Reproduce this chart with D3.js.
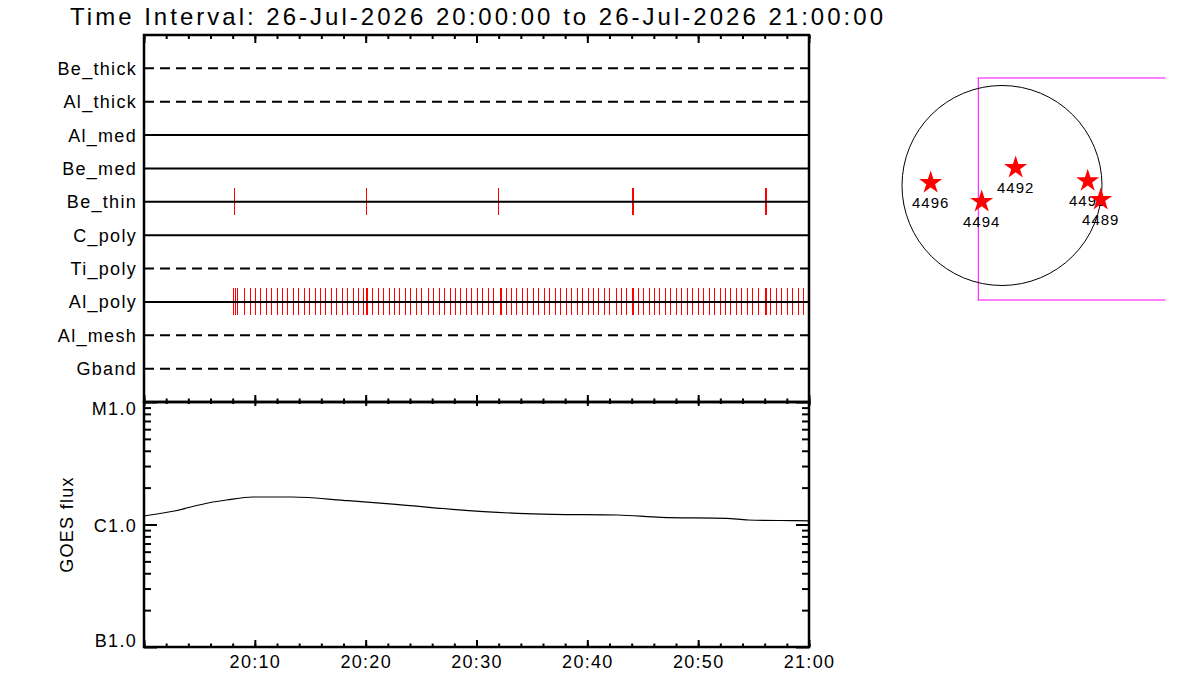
<!DOCTYPE html>
<html>
<head>
<meta charset="utf-8">
<script src="https://cdn.jsdelivr.net/npm/d3@7"></script>
<style>
  body { margin: 0; background: #fff; }
  svg { display: block; font-family: "Liberation Sans", Arial, sans-serif; }
  .lbl { font-size: 18px; letter-spacing: 1.3px; fill: #000; }
</style>
</head>
<body>
<svg id="chart" width="1200" height="700"></svg>
<script>
/* globals d3 */

// Filter rows of the observing timeline (top to bottom)
const filters = ['Be_thick', 'Al_thick', 'Al_med', 'Be_med', 'Be_thin',
  'C_poly', 'Ti_poly', 'Al_poly', 'Al_mesh', 'Gband'];
const dashedFilters = ['Be_thick', 'Al_thick', 'Ti_poly', 'Al_mesh', 'Gband'];

const timeRange = ['20:00:00', '21:00:00'];
const titleText = 'Time Interval: 26-Jul-2026 20:00:00 to 26-Jul-2026 21:00:00';
const timeLabels = ['20:10:00', '20:20:00', '20:30:00', '20:40:00', '20:50:00', '21:00:00'];

// Image times per filter
const beThinTimes = ['20:08:07', '20:20:02', '20:31:57', '20:44:02', '20:44:07',
  '20:56:02', '20:56:07'];
const alPolyTimes = [
  '20:08:03', '20:08:14', '20:08:25', '20:09:03', '20:09:32', '20:10:01', '20:10:30',
  '20:10:59', '20:11:29', '20:11:58', '20:12:27', '20:12:56', '20:13:27', '20:13:55',
  '20:14:25', '20:14:55', '20:15:24', '20:15:53', '20:16:22', '20:16:52', '20:17:21',
  '20:17:50', '20:18:19', '20:18:50', '20:19:19', '20:19:47', '20:20:03', '20:20:09',
  '20:20:36', '20:21:05', '20:21:34', '20:22:05', '20:22:33', '20:23:02', '20:23:33',
  '20:24:02', '20:24:31', '20:25:02', '20:25:36', '20:26:06', '20:26:35', '20:27:04',
  '20:27:35', '20:28:04', '20:28:32', '20:29:03', '20:29:32', '20:30:03', '20:30:32',
  '20:31:01', '20:31:31', '20:32:06', '20:32:12', '20:32:38', '20:33:07', '20:33:36',
  '20:34:06', '20:34:35', '20:35:06', '20:35:35', '20:36:04', '20:36:34', '20:37:04',
  '20:37:32', '20:38:03', '20:38:32', '20:39:03', '20:39:31', '20:40:02', '20:40:31',
  '20:41:00', '20:41:30', '20:41:59', '20:42:33', '20:43:02', '20:43:31', '20:44:03',
  '20:44:09', '20:44:33', '20:45:02', '20:45:32', '20:46:01', '20:46:30', '20:47:01',
  '20:47:29', '20:48:00', '20:48:29', '20:48:58', '20:49:28', '20:49:58', '20:50:28',
  '20:50:57', '20:51:26', '20:51:57', '20:52:25', '20:52:54', '20:53:25', '20:53:54',
  '20:54:25', '20:54:53', '20:55:23', '20:56:01', '20:56:07', '20:56:31', '20:57:00',
  '20:57:30', '20:57:59', '20:58:30', '20:58:59', '20:59:28'
];

// GOES 1-8 A flux
const goesTimes = ['20:00:00', '20:02:44', '20:05:53', '20:07:27', '20:09:49', '20:13:20',
  '20:18:26', '20:22:44', '20:27:50', '20:33:43', '20:36:52', '20:42:44', '20:46:40',
  '20:52:33', '20:54:30', '20:58:50', '21:00:00'];
const goesFlux = [1.173e-6, 1.289e-6, 1.506e-6, 1.585e-6, 1.677e-6, 1.677e-6,
  1.564e-6, 1.462e-6, 1.331e-6, 1.234e-6, 1.211e-6, 1.196e-6, 1.145e-6,
  1.124e-6, 1.088e-6, 1.074e-6, 1.070e-6];
const goesMajor = [1e-7, 1e-6, 1e-5];
const goesMajorLabels = ['B1.0', 'C1.0', 'M1.0'];
const goesMinor = [2e-7, 3e-7, 4e-7, 5e-7, 6e-7, 7e-7, 8e-7, 9e-7,
  2e-6, 3e-6, 4e-6, 5e-6, 6e-6, 7e-6, 8e-6, 9e-6];

// Active regions on the disk (arcsec from disk centre)
const arNumbers = ['4496', '4494', '4492', '4493', '4489'];
const arX = [-674, -192, 129, 810, 933];
const arY = [26, -153, 168, 43, -134];
const solarRadius = 945;
const fovX = [-224, 1876];
const fovY = [-1082, 1016];

// Layout
const left = 144;
const right = 809;
const panelTop = 35;
const panelMid = 402;
const panelBottom = 647;

const svg = d3.select('#chart');
const parse = d3.timeParse('%H:%M:%S');

const x = d3.scaleTime()
  .domain(timeRange.map(parse))
  .range([left, right]);
const yRow = d3.scalePoint()
  .domain(filters)
  .range([panelTop, panelMid])
  .padding(1);
const yGoes = d3.scaleLog()
  .domain([1e-7, 1e-5])
  .range([panelBottom, panelMid]);

// Title
svg.append('text')
  .attr('x', 70)
  .attr('y', 25)
  .attr('font-size', 24)
  .attr('textLength', 813)
  .attr('lengthAdjust', 'spacing')
  .text(titleText);

// Observation marks
const marks = [['Be_thin', beThinTimes], ['Al_poly', alPolyTimes]];
marks.forEach(([filter, times]) => {
  svg.append('g').selectAll('line')
    .data(times.map(parse))
    .join('line')
    .attr('x1', d => Math.round(x(d)) + 0.5)
    .attr('x2', d => Math.round(x(d)) + 0.5)
    .attr('y1', yRow(filter) - 14)
    .attr('y2', yRow(filter) + 13)
    .attr('stroke', '#ff0000')
    .attr('stroke-width', 1)
    .attr('shape-rendering', 'crispEdges');
});

// Filter rows
svg.append('g').selectAll('line')
  .data(filters)
  .join('line')
  .attr('x1', left)
  .attr('x2', right)
  .attr('y1', d => yRow(d))
  .attr('y2', d => yRow(d))
  .attr('stroke', '#000')
  .attr('stroke-width', 2)
  .attr('stroke-dasharray', d => dashedFilters.includes(d) ? '10,6' : null);

svg.append('g').selectAll('text')
  .data(filters)
  .join('text')
  .attr('class', 'lbl')
  .attr('x', 137)
  .attr('y', d => yRow(d) + 6.5)
  .attr('text-anchor', 'end')
  .text(d => d);

// Time ticks along horizontal edges
function timeTicks(y, axisFn, minorSize, majorSize) {
  [[2, minorSize], [10, majorSize]].forEach(([every, size]) => {
    svg.append('g')
      .attr('transform', `translate(0,${y})`)
      .call(axisFn(x).ticks(d3.timeMinute.every(every)).tickSize(size).tickFormat(''))
      .call(g => g.select('.domain').remove())
      .selectAll('line')
      .attr('stroke-width', 2);
  });
}
timeTicks(panelTop, d3.axisBottom, 4, 8);
timeTicks(panelMid, d3.axisTop, 3.5, 7);
timeTicks(panelMid, d3.axisBottom, 2, 4);
timeTicks(panelBottom, d3.axisTop, 3.5, 7);

const xLabels = svg.append('g')
  .attr('transform', `translate(0,${panelBottom})`)
  .call(d3.axisBottom(x)
    .tickValues(timeLabels.map(parse))
    .tickSize(0)
    .tickPadding(8)
    .tickFormat(d3.timeFormat('%H:%M')));
xLabels.select('.domain').remove();
xLabels.attr('font-size', null).attr('font-family', null);
xLabels.selectAll('text').attr('class', 'lbl');

// GOES vertical ticks
function fluxTicks(xPos, axisFn) {
  [[goesMinor, 7], [goesMajor, 13]].forEach(([values, size]) => {
    svg.append('g')
      .attr('transform', `translate(${xPos},0)`)
      .call(axisFn(yGoes).tickValues(values).tickSize(size).tickFormat(''))
      .call(g => g.select('.domain').remove())
      .selectAll('line')
      .attr('stroke-width', 2);
  });
}
fluxTicks(left, d3.axisRight);
fluxTicks(right, d3.axisLeft);

svg.append('g').selectAll('text')
  .data(goesMajor)
  .join('text')
  .attr('class', 'lbl')
  .attr('x', 137)
  .attr('y', d => Math.min(Math.max(yGoes(d) + 7, panelMid + 13), panelBottom))
  .attr('text-anchor', 'end')
  .text((d, i) => goesMajorLabels[i]);

svg.append('text')
  .attr('class', 'lbl')
  .attr('transform', `translate(73,${yGoes(1e-6)}) rotate(-90)`)
  .attr('text-anchor', 'middle')
  .text('GOES flux');

// GOES curve
const goesLine = d3.line()
  .x(d => x(d[0]))
  .y(d => yGoes(d[1]))
  .curve(d3.curveMonotoneX);
svg.append('path')
  .datum(goesTimes.map((t, i) => [parse(t), goesFlux[i]]))
  .attr('d', goesLine)
  .attr('fill', 'none')
  .attr('stroke', '#000')
  .attr('stroke-width', 1.2);

// Panel frames
[[panelTop, panelMid], [panelMid, panelBottom]].forEach(([y0, y1]) => {
  svg.append('rect')
    .attr('x', left)
    .attr('y', y0)
    .attr('width', right - left)
    .attr('height', y1 - y0)
    .attr('fill', 'none')
    .attr('stroke', '#000')
    .attr('stroke-width', 2.5);
});

// Solar disk map
const sx = d3.scaleLinear().domain([-solarRadius, solarRadius]).range([902, 1102]);
const sy = d3.scaleLinear().domain([solarRadius, -solarRadius]).range([85.5, 285.5]);

svg.append('clipPath').attr('id', 'mapClip')
  .append('rect')
  .attr('x', 880).attr('y', 60)
  .attr('width', 1165.5 - 880).attr('height', 260);

svg.append('rect')
  .attr('clip-path', 'url(#mapClip)')
  .attr('x', sx(fovX[0]))
  .attr('y', sy(fovY[1]))
  .attr('width', sx(fovX[1]) - sx(fovX[0]))
  .attr('height', sy(fovY[0]) - sy(fovY[1]))
  .attr('fill', 'none')
  .attr('stroke', '#ff00ff')
  .attr('stroke-width', 1);

svg.append('circle')
  .attr('cx', sx(0))
  .attr('cy', sy(0))
  .attr('r', sx(solarRadius) - sx(0))
  .attr('fill', 'none')
  .attr('stroke', '#000')
  .attr('stroke-width', 1);

const star = d3.symbol().type(d3.symbolStar).size(165);
arNumbers.forEach((num, i) => {
  const g = svg.append('g')
    .attr('transform', `translate(${sx(arX[i])},${sy(arY[i])})`);
  g.append('path')
    .attr('d', star)
    .attr('fill', '#ff0000');
  g.append('text')
    .attr('y', 25)
    .attr('text-anchor', 'middle')
    .attr('font-size', 15)
    .attr('letter-spacing', 1)
    .text(num);
});
</script>
</body>
</html>
